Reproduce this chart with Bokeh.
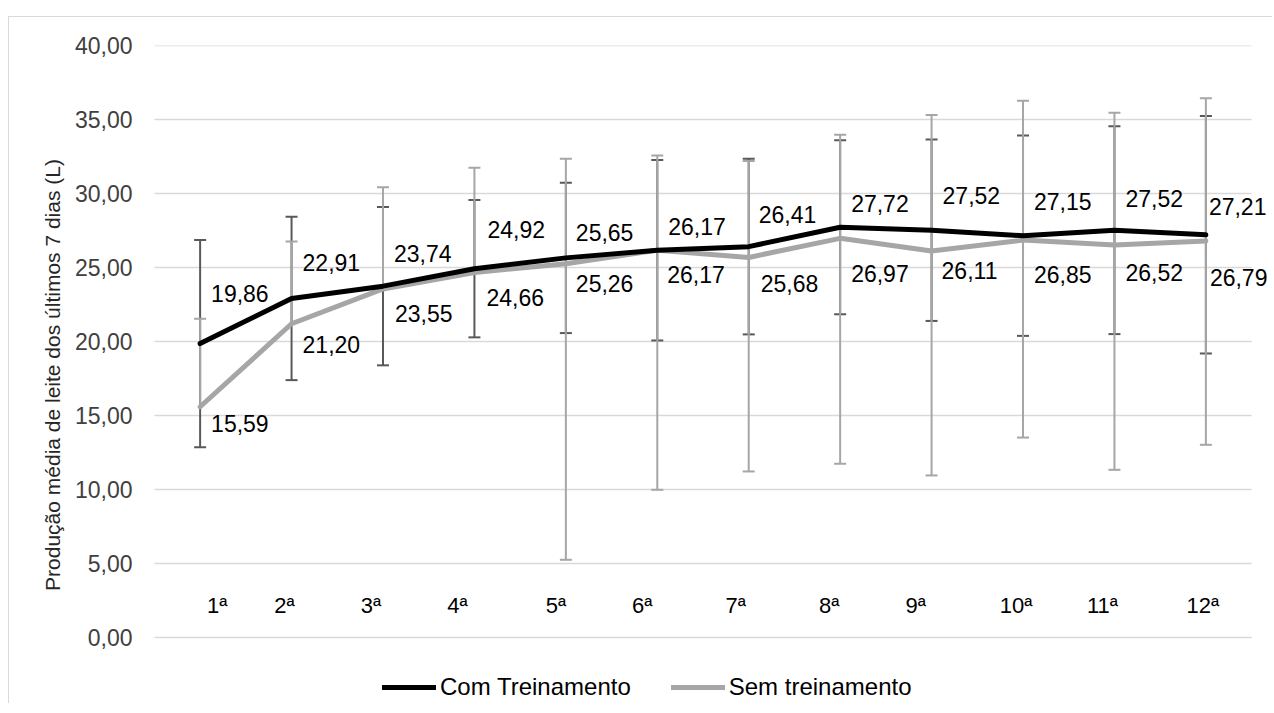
from bokeh.plotting import figure
from bokeh.models import (ColumnDataSource, Whisker, TeeHead, Legend, LegendItem,
                          FixedTicker, Range1d, FactorRange, LabelSet)
from bokeh.core.properties import value
from bokeh.embed import file_html
from bokeh.resources import INLINE

# ---------------- data ----------------
categories = ["1ª", "2ª", "3ª", "4ª", "5ª", "6ª", "7ª", "8ª", "9ª", "10ª", "11ª", "12ª"]
series_names = ["Com Treinamento", "Sem treinamento"]
com_mean = [19.86, 22.91, 23.74, 24.92, 25.65, 26.17, 26.41, 27.72, 27.52, 27.15, 27.52, 27.21]
sem_mean = [15.59, 21.20, 23.55, 24.66, 25.26, 26.17, 25.68, 26.97, 26.11, 26.85, 26.52, 26.79]
com_err = [7.00, 5.52, 5.35, 4.64, 5.08, 6.10, 5.93, 5.88, 6.13, 6.77, 7.02, 8.02]
sem_err_plus = [5.94, 5.56, 6.88, 7.08, 7.09, 6.40, 6.52, 7.00, 9.19, 9.41, 8.94, 9.64]
sem_err_minus = [0.0, 0.0, 0.0, 0.0, 20.01, 16.19, 14.46, 15.23, 15.16, 13.34, 15.19, 13.77]
y_ticks = [0, 5, 10, 15, 20, 25, 30, 35, 40]
y_tick_labels = ["0,00", "5,00", "10,00", "15,00", "20,00", "25,00", "30,00", "35,00", "40,00"]
y_title = "Produção média de leite dos últimos 7 dias (L)"

# label placement (screen-pixel nudges, style only)
com_label_dy = [50, 36, 33, 39, 25, 24, 32, 24, 35, 34, 32, 28]
sem_label_dy = [17, 21, 25, 25, 20, 24, 26, 35, 19, 34, 27, 36]
com_label_dx = [11, 11, 11, 13, 10, 11, 10, 11, 11, 11, 11, 3]
sem_label_dx = [11, 11, 12, 12, 10, 10, 12, 11, 10, 11, 11, 4]
cat_label_dx = [17, -7, -12, -17, -10, -15, -13, -11, -16, -7, -12, -3]

FONT = "Liberation Sans"

# ---------------- layout constants ----------------
W, H = 1264, 687
BORDER_TOP = 28          # space above the 40,00 gridline
PX_PER_UNIT = 14.8       # vertical scale
Y_MAX = 40
frame_h = H - BORDER_TOP
y_start = Y_MAX - frame_h / PX_PER_UNIT

def fmt(v):
    return f"{v:.2f}".replace(".", ",")

src = ColumnDataSource(dict(
    cat=categories,
    com=com_mean,
    sem=sem_mean,
    com_lo=[m - e for m, e in zip(com_mean, com_err)],
    com_hi=[m + e for m, e in zip(com_mean, com_err)],
    sem_hi=[m + e for m, e in zip(sem_mean, sem_err_plus)],
    com_lbl=[fmt(v) for v in com_mean],
    sem_lbl=[fmt(v) for v in sem_mean],
    com_dy=com_label_dy,
    sem_dy=[-d for d in sem_label_dy],
    com_dx=com_label_dx,
    sem_dx=sem_label_dx,
    cat_dx=cat_label_dx,
    zero=[0] * len(categories),
))

idx = [i for i, e in enumerate(sem_err_minus) if e > 0]
src_semlo = ColumnDataSource(dict(
    cat=[categories[i] for i in idx],
    sem=[sem_mean[i] for i in idx],
    sem_lo=[sem_mean[i] - sem_err_minus[i] for i in idx],
))

grid_src = ColumnDataSource(dict(
    x0=[(categories[0], -0.5)] * len(y_ticks),
    x1=[(categories[-1], 0.5)] * len(y_ticks),
    y=y_ticks,
))

p = figure(width=W, height=H,
           x_range=FactorRange(*categories, range_padding=0.2396,
                               range_padding_units="absolute"),
           y_range=Range1d(y_start, Y_MAX),
           output_backend="svg", toolbar_location=None,
           min_border_left=123, min_border_right=0,
           min_border_top=BORDER_TOP, min_border_bottom=0)
p.margin = (16, 0, 0, 8)
p.styles = {"border-top": "1px solid #d9d9d9", "border-left": "1px solid #d9d9d9"}

p.outline_line_color = None
p.xaxis.visible = False
p.xgrid.visible = False
p.ygrid.visible = False

ya = p.yaxis[0]
ya.ticker = FixedTicker(ticks=y_ticks)
ya.major_label_overrides = {t: l for t, l in zip(y_ticks, y_tick_labels)}
ya.axis_line_color = None
ya.major_tick_line_color = None
ya.minor_tick_line_color = None
ya.major_tick_out = 0
ya.major_tick_in = 0
ya.minor_tick_out = 0
ya.major_label_standoff = 0
ya.major_label_text_font = FONT
ya.major_label_text_font_size = "23px"
ya.major_label_text_color = "#404040"
ya.axis_label = y_title
ya.axis_label_text_font = FONT
ya.axis_label_text_font_size = "21px"
ya.axis_label_text_font_style = "normal"
ya.axis_label_text_color = "#262626"
ya.axis_label_standoff = 8

# horizontal gridlines over the category span only
p.segment(x0="x0", y0="y", x1="x1", y1="y", source=grid_src,
          line_color="#d9d9d9", line_width=1.5, level="image")

# error bars
COM_EB = "#595959"
SEM_EB = "#a6a6a6"
p.add_layout(Whisker(source=src, base="cat", lower="com_lo", upper="com_hi",
                     line_color=COM_EB, line_width=2,
                     upper_head=TeeHead(size=12, line_color=COM_EB, line_width=2),
                     lower_head=TeeHead(size=12, line_color=COM_EB, line_width=2)))
p.add_layout(Whisker(source=src, base="cat", lower="sem", upper="sem_hi",
                     line_color=SEM_EB, line_width=2,
                     upper_head=TeeHead(size=12, line_color=SEM_EB, line_width=2),
                     lower_head=None))
p.add_layout(Whisker(source=src_semlo, base="cat", lower="sem_lo", upper="sem",
                     line_color=SEM_EB, line_width=2,
                     upper_head=None,
                     lower_head=TeeHead(size=12, line_color=SEM_EB, line_width=2)))

# lines
r_sem = p.line(x="cat", y="sem", source=src, line_color="#a6a6a6", line_width=5,
               line_cap="round", line_join="round")
r_com = p.line(x="cat", y="com", source=src, line_color="#000000", line_width=5,
               line_cap="round", line_join="round")

# data labels
p.add_layout(LabelSet(source=src, x="cat", y="com", text="com_lbl",
                      x_offset="com_dx", y_offset="com_dy",
                      text_align="left", text_baseline="middle",
                      text_font=value(FONT), text_font_size="23px", text_color="#000000"))
p.add_layout(LabelSet(source=src, x="cat", y="sem", text="sem_lbl",
                      x_offset="sem_dx", y_offset="sem_dy",
                      text_align="left", text_baseline="middle",
                      text_font=value(FONT), text_font_size="23px", text_color="#000000"))

# category labels
p.add_layout(LabelSet(source=src, x="cat", y="zero", text="cat",
                      x_offset="cat_dx", y_offset=32,
                      text_align="center", text_baseline="middle",
                      text_font=value(FONT), text_font_size="22px", text_color="#000000"))

legend = Legend(items=[LegendItem(label=series_names[0], renderers=[r_com]),
                       LegendItem(label=series_names[1], renderers=[r_sem])],
                orientation="horizontal", location=(250, 3))
legend.border_line_color = None
legend.background_fill_alpha = 0
legend.padding = 0
legend.margin = 0
legend.spacing = 40
legend.glyph_width = 54
legend.glyph_height = 20
legend.label_standoff = 4
legend.label_text_font = FONT
legend.label_text_font_size = "24px"
legend.label_text_color = "#000000"
p.add_layout(legend)

open("out.html", "w").write(file_html(p, INLINE))
